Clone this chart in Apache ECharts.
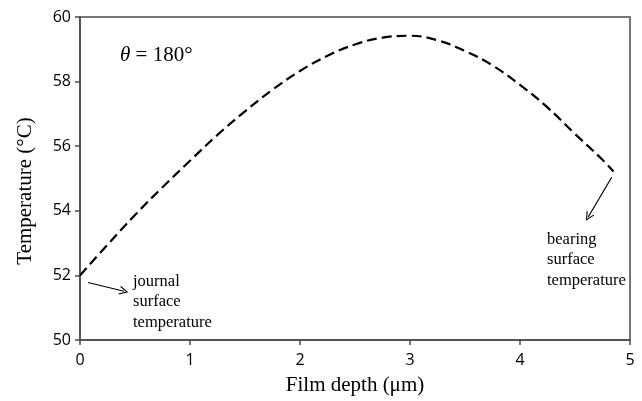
<!DOCTYPE html>
<html>
<head>
<meta charset="utf-8">
<script src="https://cdn.jsdelivr.net/npm/echarts@6/dist/echarts.min.js"></script>
<style>
html,body{margin:0;padding:0;background:#fff;}
#c{width:642px;height:401px;}
</style>
</head>
<body>
<div id="c"></div>
<script>
var filmDepth = [0, 0.25, 0.5, 0.75, 1.0, 1.25, 1.5, 1.75, 2.0, 2.25, 2.5, 2.75, 3.0, 3.25, 3.5, 3.75, 4.0, 4.25, 4.5, 4.75, 4.85];
var temperature = [52.0, 52.95, 53.87, 54.73, 55.55, 56.35, 57.08, 57.75, 58.33, 58.8, 59.15, 59.36, 59.42, 59.28, 58.95, 58.5, 57.9, 57.2, 56.38, 55.58, 55.22];
var journalArrow = [[0.073, 51.78], [0.4, 51.51]];
var bearingArrow = [[4.834, 55.04], [4.62, 53.81]];
var xTicks = [0, 1, 2, 3, 4, 5];
var yTicks = [50, 52, 54, 56, 58, 60];

var chart = echarts.init(document.getElementById('c'), null, {renderer: 'canvas'});
var axisColor = '#4a4a4a';
var serif = '"Liberation Serif", "DejaVu Serif", serif';
var sans = '"Open Sans", "Liberation Sans", sans-serif';
var openArrow = 'path://M5,0 L10,9 L8.6,9 L5,2.4 L1.4,9 L0,9 Z';

chart.setOption({
  animation: false,
  backgroundColor: '#fff',
  grid: {left: 80, right: 12, top: 17, bottom: 59, show: true, borderColor: axisColor, borderWidth: 1.5},
  xAxis: {
    type: 'value', min: xTicks[0], max: xTicks[xTicks.length - 1], interval: 1,
    name: 'Film depth (\u03bcm)', nameLocation: 'middle', nameGap: 35,
    nameTextStyle: {fontFamily: serif, fontSize: 21, color: '#000'},
    axisLine: {show: true, lineStyle: {color: axisColor, width: 1.5}},
    axisTick: {show: true, inside: false, length: 5, lineStyle: {color: axisColor, width: 1.5}},
    axisLabel: {fontFamily: sans, fontSize: 16, color: '#000', margin: 12},
    splitLine: {show: false}
  },
  yAxis: {
    type: 'value', min: yTicks[0], max: yTicks[yTicks.length - 1], interval: 2,
    name: 'Temperature (\u00b0C)', nameLocation: 'middle', nameGap: 44,
    nameTextStyle: {fontFamily: serif, fontSize: 21, color: '#000', padding: [0, 0, 0, -25]},
    axisLine: {show: true, lineStyle: {color: axisColor, width: 1.5}},
    axisTick: {show: true, inside: false, length: 5, lineStyle: {color: axisColor, width: 1.5}},
    axisLabel: {fontFamily: sans, fontSize: 16, color: '#000', margin: 9},
    splitLine: {show: false}
  },
  series: [{
    type: 'line',
    data: filmDepth.map(function (x, i) { return [x, temperature[i]]; }),
    smooth: 0.4,
    showSymbol: false,
    symbol: 'none',
    lineStyle: {color: '#000', width: 2.2, type: [10, 5]},
    markLine: {
      silent: true,
      symbol: ['none', openArrow],
      symbolSize: [9, 9],
      label: {show: false},
      lineStyle: {color: '#000', width: 1.2, type: 'solid'},
      data: [
        [{coord: journalArrow[0]}, {coord: journalArrow[1]}],
        [{coord: bearingArrow[0]}, {coord: bearingArrow[1]}]
      ]
    }
  }],
  graphic: [
    {type: 'text', left: 120, top: 45, style: {
      text: '{i|\u03b8} = 180\u00b0', font: '21px ' + serif, fill: '#000',
      rich: {i: {fontFamily: serif, fontSize: 21, fontStyle: 'italic', fill: '#000'}}
    }},
    {type: 'text', left: 133, top: 271, style: {
      text: 'journal\nsurface\ntemperature', font: '16.5px ' + serif, fill: '#000', lineHeight: 20.5
    }},
    {type: 'text', left: 547, top: 229, style: {
      text: 'bearing\nsurface\ntemperature', font: '16.5px ' + serif, fill: '#000', lineHeight: 20.5
    }}
  ]
});
</script>
</body>
</html>
